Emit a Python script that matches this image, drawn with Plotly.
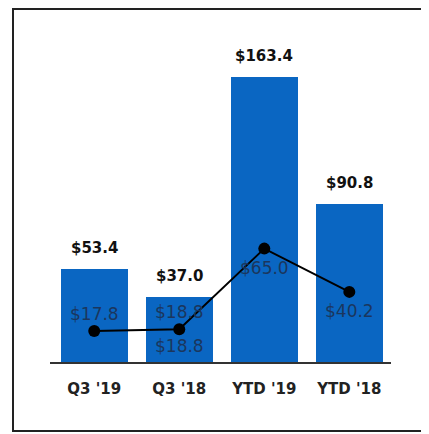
import plotly.graph_objects as go

categories = ["Q3 '19", "Q3 '18", "YTD '19", "YTD '18"]
bar_values = [53.4, 37.0, 163.4, 90.8]
line_values = [17.8, 18.8, 65.0, 40.2]
bar_labels = ["$53.4", "$37.0", "$163.4", "$90.8"]
line_labels = ["$17.8", "$18.8", "$65.0", "$40.2"]
extra_label_index = 1
extra_label = "$18.8"

x = list(range(len(categories)))
BLUE = "#0a66c2"
FONT = "DejaVu Sans"

fig = go.Figure()
fig.add_trace(go.Bar(x=x, y=bar_values, width=0.788, marker=dict(color=BLUE, line=dict(width=0)),
                     hoverinfo="skip"))
fig.add_trace(go.Scatter(x=x, y=line_values, mode="lines+markers",
                         line=dict(color="black", width=2),
                         marker=dict(color="black", size=12), hoverinfo="skip"))

ann = []
for xi, v, t in zip(x, bar_values, bar_labels):
    ann.append(dict(x=xi, y=v, text=t, showarrow=False, yshift=21,
                    font=dict(family=FONT, size=15, color="#111", weight="bold"), xref="x", yref="y"))
line_shift = [17, 17, -19, -19]
for xi, v, t, s in zip(x, line_values, line_labels, line_shift):
    ann.append(dict(x=xi, y=v, text=t, showarrow=False, yshift=s,
                    font=dict(family=FONT, size=17, color="#1b365d"), xref="x", yref="y"))
ann.append(dict(x=x[extra_label_index], y=line_values[extra_label_index], text=extra_label,
                showarrow=False, yshift=-17,
                font=dict(family=FONT, size=17, color="#1b365d"), xref="x", yref="y"))

shapes = [dict(type="rect", xref="paper", yref="paper",
               x0=-0.1085, x1=1.2, y0=-0.2143, y1=1.0963,
               line=dict(color="#222", width=2), fillcolor="rgba(0,0,0,0)", layer="below")]

fig.update_layout(
    width=429, height=434,
    margin=dict(l=42, r=46, t=32, b=80),
    paper_bgcolor="white", plot_bgcolor="white",
    showlegend=False,
    bargap=0,
    annotations=ann,
    shapes=shapes,
    xaxis=dict(range=[-0.52, 3.49], tickvals=x, ticktext=categories,
               showline=True, linecolor="#333", linewidth=2, showgrid=False, zeroline=False,
               ticks="outside", ticklen=12, tickcolor="rgba(0,0,0,0)",
               tickfont=dict(family=FONT, size=15, color="#222", weight="bold"), fixedrange=True),
    yaxis=dict(range=[0, 184.6], visible=False, showgrid=False, zeroline=False, fixedrange=True),
)
fig.write_html("out.html", config={"displayModeBar": False})
